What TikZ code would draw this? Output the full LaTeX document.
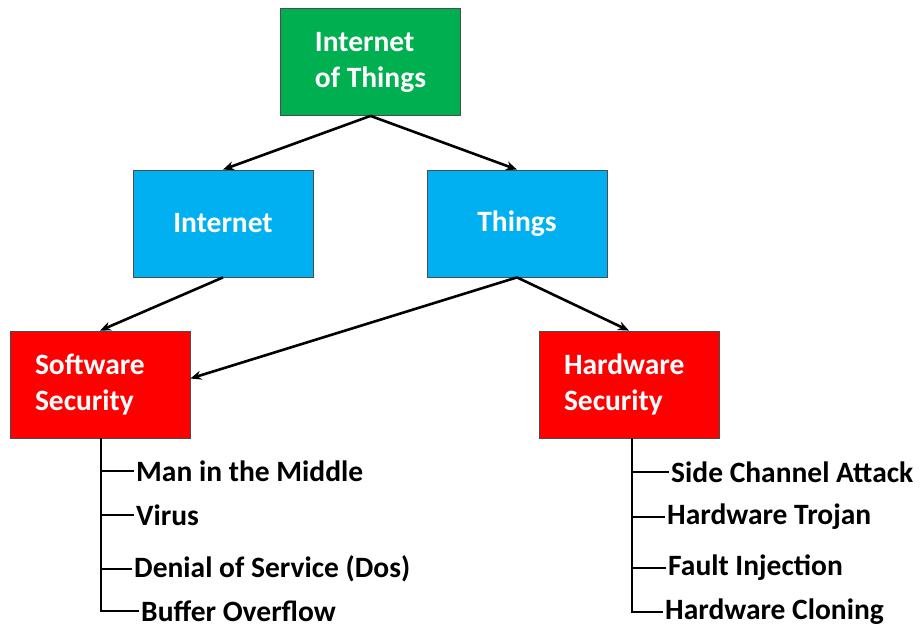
\documentclass[tikz,border=0pt]{standalone}
\usepackage{fontspec}
\setmainfont{Carlito}
\usetikzlibrary{arrows.meta}
\definecolor{iotgreen}{HTML}{00B050}
\definecolor{netblue}{HTML}{00B0F0}
\definecolor{secred}{HTML}{FF0000}
\tikzset{
	box/.style={draw=black!70,line width=0.8pt,minimum width=180pt,
		minimum height=107pt,text=white,font=\fontsize{29.5}{36}\selectfont\bfseries},
	redbox/.style={box,fill=secred,align=left,text width=130pt,inner xsep=25pt},
	item/.style={anchor=west,inner xsep=2pt,font=\fontsize{29.5}{34}\selectfont\bfseries},
	link/.style={line width=2.6pt,-{Stealth[length=11pt,width=9pt]}},
	tree/.style={line width=2.6pt}
}
\begin{document}
\begin{tikzpicture}[x=1pt,y=-1pt]
	\useasboundingbox (0,0) rectangle (922,627);
	\node[box,fill=iotgreen,align=left] (iot) at (370.5,62) {Internet\\of Things};
	\node[box,fill=netblue] (inet) at (223,223.5) {Internet};
	\node[box,fill=netblue] (things) at (517,223.5) {Things};
	\node[redbox] (sw) at (100,384.5) {Software\\Security};
	\node[redbox] (hw) at (629,384.5) {Hardware\\Security};
	\draw[link] (iot.south) -- (inet.north);
	\draw[link] (iot.south) -- (things.north);
	\draw[link] (inet.south) -- (sw.north);
	\draw[link] (things.south) -- ([yshift=6pt]sw.east);
	\draw[link] (things.south) -- (hw.north);
	% software attacks
	\foreach \n/\x/\y/\texn in {s1/134/471/Man in the Middle,
		s2/134/515/Virus,s3/132/569/Denial of Service (Dos),
		s4/139/611/Buffer Overflow}
	\path (\x,\y) node[item](\n){\texn};
	% hardware attacks
	\foreach \n/\x/\y/\texn in {h1/669/472/Side Channel Attack,
		h2/665/517/Hardware Trojan,h3/666/568/Fault Injection,
		h4/663/612/Hardware Cloning}
	\path (\x,\y) node[item](\n){\texn};
	\foreach \n in {s1,s2,s3,s4} \draw[tree] ([xshift=1pt]sw.south) |- (\n.west);
	\foreach \n in {h1,h2,h3,h4} \draw[tree] ([xshift=3pt]hw.south) |- (\n.west);
\end{tikzpicture}
\end{document}
